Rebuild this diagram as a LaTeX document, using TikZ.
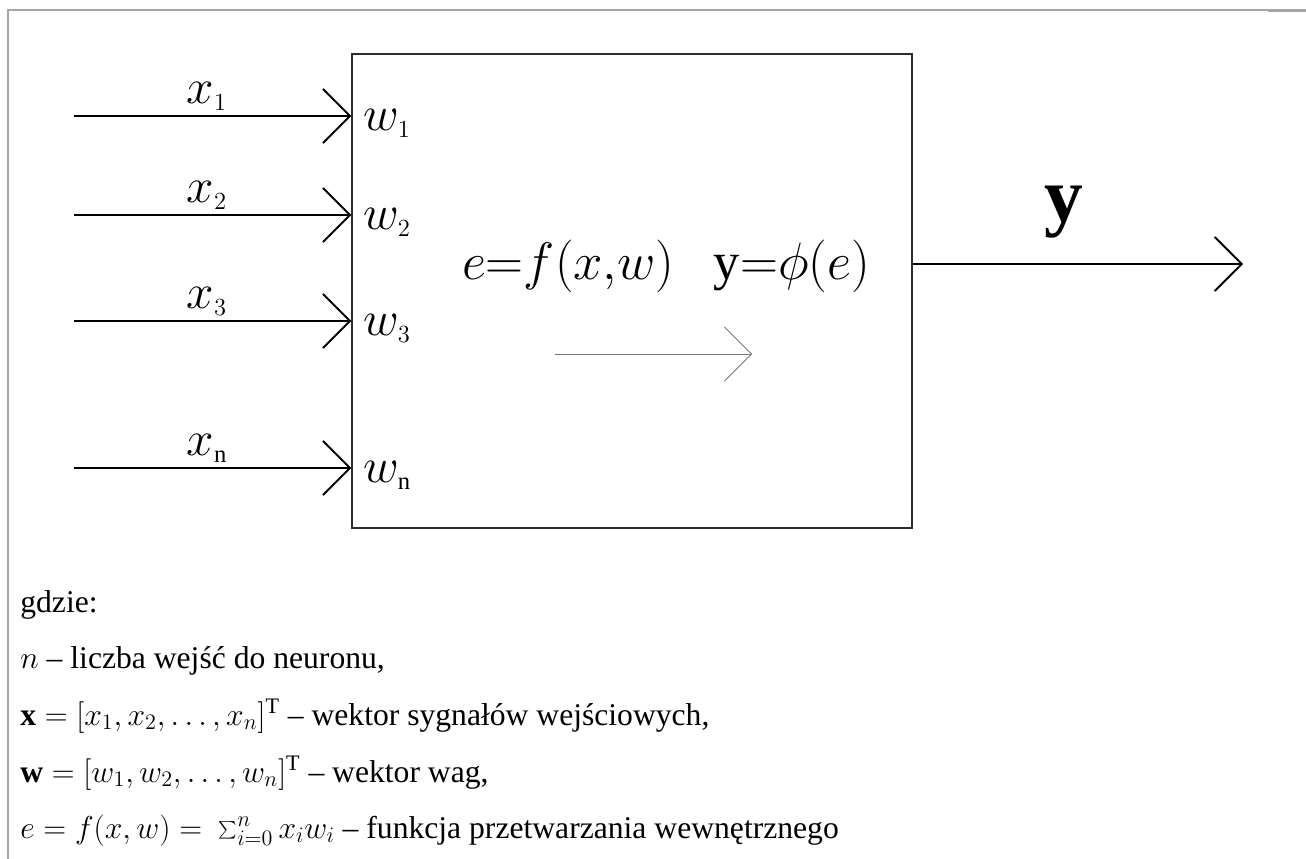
\RequirePackage{fix-cm}
\documentclass[tikz,border=0pt]{standalone}
\usepackage{fontspec}
\setmainfont{Liberation Serif}
\usetikzlibrary{arrows.meta,positioning}
\definecolor{framegray}{RGB}{165,165,165}
\definecolor{boxgray}{RGB}{45,45,45}
\definecolor{flowgray}{RGB}{120,120,120}

\tikzset{
  sig/.style={-{Straight Barb[length=5.4mm,width=10.8mm]}, line width=1.1pt},
  inlabel/.style={anchor=base, inner sep=0pt, font=\fontsize{28}{30}\selectfont},
  wtlabel/.style={anchor=base west, inner sep=0pt, font=\fontsize{28}{30}\selectfont},
  noteline/.style={anchor=base west, inner sep=0pt, font=\fontsize{18}{20}\selectfont},
}

\begin{document}
\begin{tikzpicture}[x=0.02cm, y=-0.02cm]
\useasboundingbox (0,0) rectangle (1306,859);
% page frame
\draw[framegray, line width=0.8pt] (8,859) -- (8,10) -- (1306,10);
\draw[framegray, line width=1.6pt] (1268,10.6) -- (1306,10.6);

% neuron block
\node[draw=boxgray, line width=0.85pt, minimum width=11.2cm, minimum height=9.48cm, inner sep=0pt] (neuron) at (632,291) {};

% inputs and weights
\foreach \i/\yy/\sub in {1/116/1, 2/215/2, 3/321/3, n/468/\mathrm{n}} {
  \coordinate (in\i) at (74,\yy);
  \draw[sig] (in\i) -- (in\i -| neuron.west);
  \node[inlabel] (x\i) at (207,\yy-13) {$x_{\scriptscriptstyle\sub}$};
  \node[wtlabel] (w\i) at (363,\yy+14) {$w_{\scriptscriptstyle\sub}$};
}

% inside the block
\node[anchor=base, inner sep=0pt, font=\fontsize{30}{34}\selectfont] (rule) at (666,279) {$e\mathbf{=}f(x{,}w)$\hspace{0.75em}y${=}\phi(e)$};
\coordinate (flow0) at (555,354);
\coordinate (flow1) at (752,354);
\draw[sig, flowgray, line width=0.5pt] (flow0) -- (flow1);

% output
\coordinate (yout) at (1243,264);
\draw[sig] (neuron.east |- yout) -- (yout);
\node[anchor=base, inner sep=0pt, font=\bfseries\fontsize{44}{46}\selectfont] (ylab) at (1064,221) {y};

% legend
\node[noteline] (n0) at (20,612) {gdzie:};
\node[noteline] (n1) at (20,668) {$n$ – liczba wejść do neuronu,};
\node[noteline] (n2) at (20,725) {$\mathbf{x} = [x_1, x_2, \dots, x_n]^{\mathrm{T}}$ – wektor sygnałów wejściowych,};
\node[noteline] (n3) at (20,782) {$\mathbf{w} = [w_1, w_2, \dots, w_n]^{\mathrm{T}}$ – wektor wag,};
\node[noteline] (n4) at (20,838) {$e = f(x,w) = \ \sum_{i=0}^{n} x_i w_i$\ – funkcja przetwarzania wewnętrznego};
\end{tikzpicture}
\end{document}
